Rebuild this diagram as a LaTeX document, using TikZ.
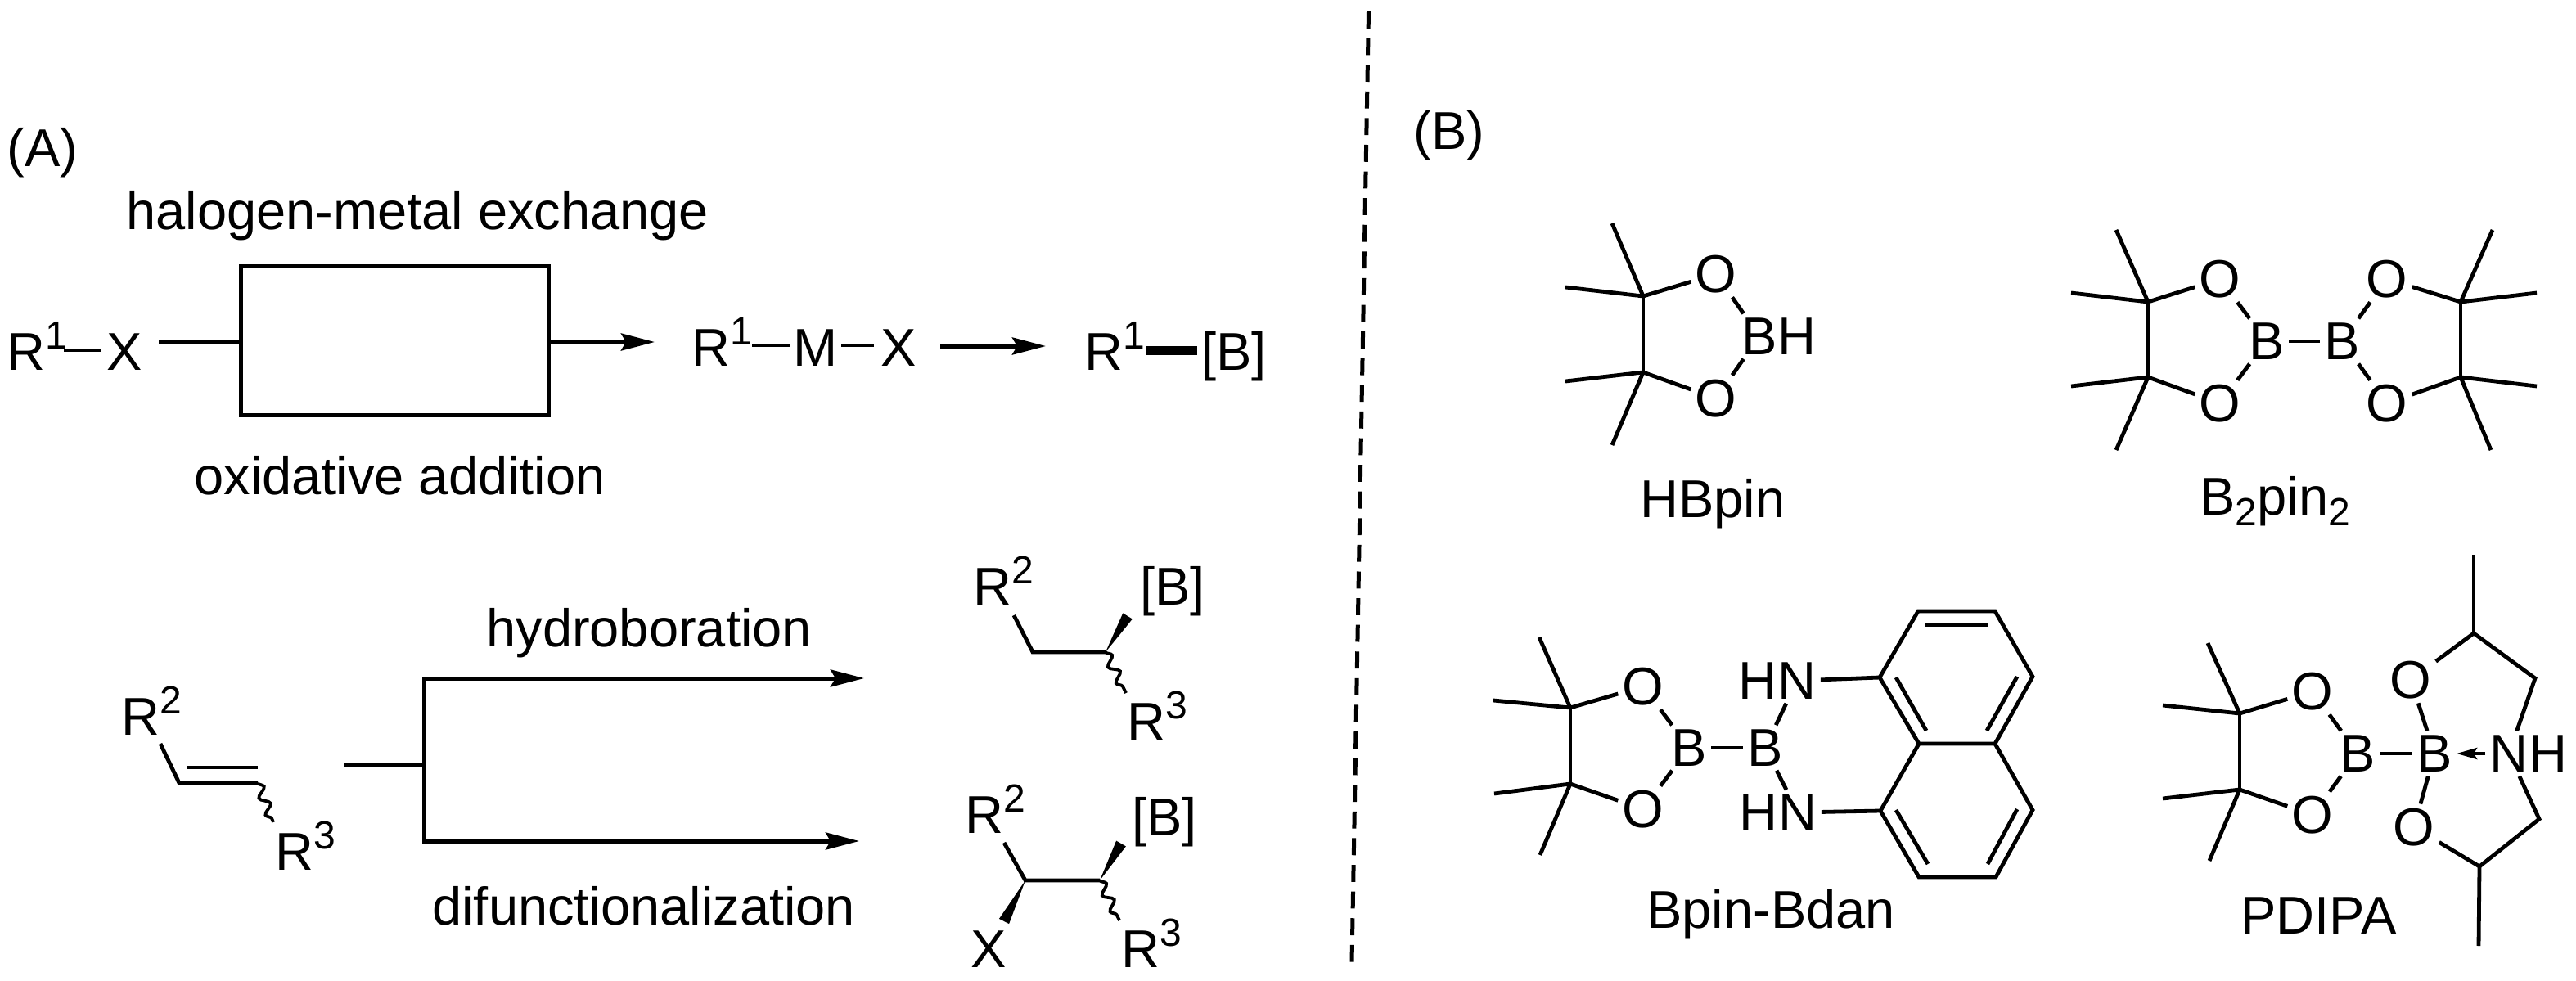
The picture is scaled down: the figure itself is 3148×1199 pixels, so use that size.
\documentclass[tikz,border=0pt]{standalone}
\usepackage{fontspec}
\setmainfont{Liberation Sans}
\usetikzlibrary{positioning,calc,arrows.meta,decorations.pathmorphing}
\newcommand{\supr}[1]{\raisebox{12.7pt}{\fontsize{24}{24}\selectfont #1}}
\newcommand{\subr}[1]{\raisebox{-6.5pt}{\fontsize{24}{24}\selectfont #1}}
\tikzset{
  bond/.style={line width=2.4pt},
  arrowbond/.style={line width=2.5pt,-{Stealth[length=20.5pt,width=10.5pt,inset=3pt]}},
  wavebond/.style={line width=1.9pt,decorate,decoration={snake,segment length=11pt,amplitude=2.8pt}},
  txt/.style={anchor=base west,inner sep=0pt,font=\fontsize{32.5}{36}\selectfont},
  atom/.style={inner sep=2.5pt,font=\fontsize{32.5}{36}\selectfont},
}
\begin{document}
\begin{tikzpicture}[x=0.5pt,y=-0.5pt]
  \useasboundingbox (0,0) rectangle (3148,1199);

  % Macro for a bold wedge, narrow end at #1, wide end at #2
  \def\drawWedge#1#2{
    \fill ($(#1)$) -- ($(#2)!3.4pt!90:(#1)$) -- ($(#2)!3.4pt!-90:(#1)$) -- cycle;
  }

  % Divider between the two panels
  \coordinate (divTop) at (1672.5,14);
  \coordinate (divBot) at (1652,1177);
  \draw[line width=2.5pt,dash pattern=on 10.4pt off 5.9pt] (divTop) -- (divBot);

  % Panel labels
  \node[txt] (panelA) at (8,203) {(A)};
  \node[txt] (panelB) at (1727,182) {(B)};

  % Top scheme of panel A
  \node[txt] (capExchange) at (154,280) {halogen-metal exchange};
  \node[txt] (capOxidative) at (237,604) {oxidative addition};
  \node[draw,line width=2.5pt,minimum width=188pt,minimum height=91pt,inner sep=0pt] (box) at (482,416) {};

  \node[txt] (rOneX) at (8,452) {R\supr{1}};
  \node[txt] (xOne) at (130,452) {X};
  \draw[bond] ($(rOneX.base east)+(-4,-24)$) -- ($(xOne.base west)+(-7,-24)$);
  \coordinate (boxIn) at (194,418);
  \coordinate (boxOut) at (800,418);
  \draw[bond] (boxIn) -- (boxIn -| box.west);
  \draw[arrowbond] (boxOut -| box.east) -- (boxOut);

  \node[txt] (rMid) at (845,447) {R\supr{1}};
  \node[txt] (metal) at (969,447) {M};
  \node[txt] (xMid) at (1076,447) {X};
  \draw[bond] ($(rMid.base east)+(0,-25)$) -- ($(metal.base west)+(-3,-25)$);
  \draw[bond] ($(metal.base east)+(4,-25)$) -- ($(xMid.base west)+(-8,-25)$);

  \coordinate (stepFrom) at (1149,423);
  \coordinate (stepTo) at (1278,423);
  \draw[arrowbond] (stepFrom) -- (stepTo);

  \node[txt] (rProd) at (1325,452) {R\supr{1}};
  \node[txt] (boronProd) at (1468,452) {[B]};
  \draw[line width=5.5pt] ($(rProd.base east)+(1,-24)$) -- ($(boronProd.base west)+(-5,-24)$);

  % Alkene
  \node[txt] (rTwoA) at (148,898) {R\supr{2}};
  \node[txt] (rThreeA) at (336,1063) {R\supr{3}};
  \coordinate (a0) at (196,909);
  \coordinate (a1) at (219,957);
  \coordinate (a2) at (315,957);
  \coordinate (a3) at (334,1005);
  \coordinate (a4) at (229,938);
  \coordinate (a5) at (315,938);
  \draw[bond] (a0) -- (a1) -- (a2);
  \draw[bond] (a4) -- (a5);
  \draw[wavebond] (a2) -- (a3);

  % Branching arrows
  \coordinate (brIn) at (420,935);
  \coordinate (brMid) at (518,935);
  \coordinate (brTop) at (1056,829);
  \coordinate (brBot) at (1050,1028);
  \draw[bond] (brIn) -- (brMid);
  \draw[arrowbond] (brMid) |- (brTop);
  \draw[arrowbond] (brMid) |- (brBot);
  \node[txt] (capHydro) at (594,790) {hydroboration};
  \node[txt] (capDifun) at (528,1130) {difunctionalization};

  % Hydroboration product
  \node[txt] (rTwoB) at (1189,739) {R\supr{2}};
  \node[txt] (boronB) at (1393,739) {[B]};
  \node[txt] (rThreeB) at (1377,904) {R\supr{3}};
  \coordinate (b0) at (1239,752);
  \coordinate (b1) at (1262,797);
  \coordinate (b2) at (1351,797);
  \coordinate (b3) at (1378,753);
  \coordinate (b4) at (1376,847);
  \draw[bond] (b0) -- (b1) -- (b2);
  \drawWedge{b2}{b3}
  \draw[wavebond] (b2) -- (b4);

  % Difunctionalization product
  \node[txt] (rTwoC) at (1179,1018) {R\supr{2}};
  \node[txt] (boronC) at (1383,1021) {[B]};
  \node[txt] (xC) at (1186,1182) {X};
  \node[txt] (rThreeC) at (1370,1182) {R\supr{3}};
  \coordinate (c0) at (1227,1030);
  \coordinate (c1) at (1253,1076);
  \coordinate (c2) at (1344,1076);
  \coordinate (c3) at (1370,1031);
  \coordinate (c4) at (1368,1125);
  \coordinate (c5) at (1227,1126);
  \draw[bond] (c0) -- (c1) -- (c2);
  \drawWedge{c2}{c3}
  \drawWedge{c1}{c5}
  \draw[wavebond] (c2) -- (c4);

  % HBpin
  \node[atom] (hO1) at (2097,335) {O};
  \node[atom] (hO2) at (2097,487) {O};
  \node[atom] (hB) at (2150,411) {B};
  \node[atom,right=-5pt of hB] (hH) {H};
  \coordinate (hC1) at (2008,362);
  \coordinate (hC2) at (2008,455);
  \draw[bond] (hC1) -- (hC2);
  \draw[bond] (hC1) -- (1970,273) (hC1) -- (1913,351);
  \draw[bond] (hC2) -- (1970,544) (hC2) -- (1913,466);
  \draw[bond] (hC1) -- (hO1) -- (hB) -- (hO2) -- (hC2);
  \node[txt] (capHBpin) at (2004,632) {HBpin};

  % B2pin2
  \node[atom] (dO1) at (2713,341) {O};
  \node[atom] (dO2) at (2713,493) {O};
  \node[atom] (dO3) at (2917,341) {O};
  \node[atom] (dO4) at (2917,493) {O};
  \node[atom] (dB1) at (2770,417) {B};
  \node[atom] (dB2) at (2862,417) {B};
  \coordinate (dC1) at (2625,369);
  \coordinate (dC2) at (2625,461);
  \coordinate (dC3) at (3007,369);
  \coordinate (dC4) at (3007,461);
  \draw[bond] (dC1) -- (dC2);
  \draw[bond] (dC3) -- (dC4);
  \draw[bond] (dC1) -- (2586,281) (dC1) -- (2531,358);
  \draw[bond] (dC2) -- (2586,550) (dC2) -- (2531,472);
  \draw[bond] (dC3) -- (3046,281) (dC3) -- (3100,358);
  \draw[bond] (dC4) -- (3044,550) (dC4) -- (3100,472);
  \draw[bond] (dC1) -- (dO1) -- (dB1) -- (dO2) -- (dC2);
  \draw[bond] (dC3) -- (dO3) -- (dB2) -- (dO4) -- (dC4);
  \draw[bond] (dB1) -- (dB2);
  \node[txt] (capBtwo) at (2688,629) {B\subr{2}pin\subr{2}};

  % Bpin-Bdan
  \node[atom] (nO1) at (2008,839) {O};
  \node[atom] (nO2) at (2008,989) {O};
  \node[atom] (nB1) at (2064,914) {B};
  \node[atom] (nB2) at (2157,914) {B};
  \node[atom] (nN1) at (2196,832) {N};
  \node[atom,left=-5pt of nN1] (nH1) {H};
  \node[atom] (nN2) at (2197,993) {N};
  \node[atom,left=-5pt of nN2] (nH2) {H};
  \coordinate (nC1) at (1919,865);
  \coordinate (nC2) at (1919,958);
  \draw[bond] (nC1) -- (nC2);
  \draw[bond] (nC1) -- (1881,779) (nC1) -- (1825,856);
  \draw[bond] (nC2) -- (1882,1045) (nC2) -- (1826,970);
  \draw[bond] (nC1) -- (nO1) -- (nB1) -- (nO2) -- (nC2);
  \draw[bond] (nB1) -- (nB2);
  \draw[bond] (nB2) -- (nN1) (nB2) -- (nN2);
  % naphthalene ring
  \coordinate (r1) at (2297,828);
  \coordinate (r2) at (2344,747);
  \coordinate (r3) at (2438,747);
  \coordinate (r4) at (2484,827);
  \coordinate (r5) at (2438,909);
  \coordinate (r6) at (2345,909);
  \coordinate (r7) at (2298,991);
  \coordinate (r8) at (2345,1072);
  \coordinate (r9) at (2439,1072);
  \coordinate (r10) at (2484,990);
  \draw[bond] (r6) -- (r1) -- (r2) -- (r3) -- (r4) -- (r5) -- cycle;
  \draw[bond] (r6) -- (r7) -- (r8) -- (r9) -- (r10) -- (r5);
  \draw[bond] (2352,764) -- (2429,764);
  \draw[bond] (2317,828) -- (2354,893);
  \draw[bond] (2465,827) -- (2428,893);
  \draw[bond] (2317,990) -- (2356,1056);
  \draw[bond] (2465,989) -- (2429,1056);
  \draw[bond] (nN1) -- (r1);
  \draw[bond] (nN2) -- (r7);
  \node[txt] (capBdan) at (2012,1134) {Bpin-Bdan};

  % PDIPA
  \node[atom] (pO1) at (2826,845) {O};
  \node[atom] (pO2) at (2826,996) {O};
  \node[atom] (pO3) at (2946,831) {O};
  \node[atom] (pO4) at (2950,1011) {O};
  \node[atom] (pB1) at (2881,921) {B};
  \node[atom] (pB2) at (2975,921) {B};
  \node[atom] (pN) at (3066,921) {N};
  \node[atom,right=-5pt of pN] (pH) {H};
  \coordinate (pC1) at (2737,872);
  \coordinate (pC2) at (2737,965);
  \coordinate (pC3) at (3023,774);
  \coordinate (pC4) at (3098,829);
  \coordinate (pC5) at (3103,1001);
  \coordinate (pC6) at (3030,1059);
  \draw[bond] (pC1) -- (pC2);
  \draw[bond] (pC1) -- (2698,786) (pC1) -- (2643,862);
  \draw[bond] (pC2) -- (2700,1052) (pC2) -- (2643,976);
  \draw[bond] (pC1) -- (pO1) -- (pB1) -- (pO2) -- (pC2);
  \draw[bond] (pB1) -- (pB2);
  \draw[bond] (pB2) -- (pO3) -- (pC3) -- (pC4) -- (pN) -- (pC5) -- (pC6) -- (pO4) -- (pB2);
  \draw[bond] (pC3) -- (3023,678);
  \draw[bond] (pC6) -- (3029,1156);
  \draw[line width=2pt,-{Stealth[length=12.5pt,width=7pt,inset=2pt]}] (pN) -- (pB2);
  \node[txt] (capPdipa) at (2738,1141) {PDIPA};
\end{tikzpicture}
\end{document}
